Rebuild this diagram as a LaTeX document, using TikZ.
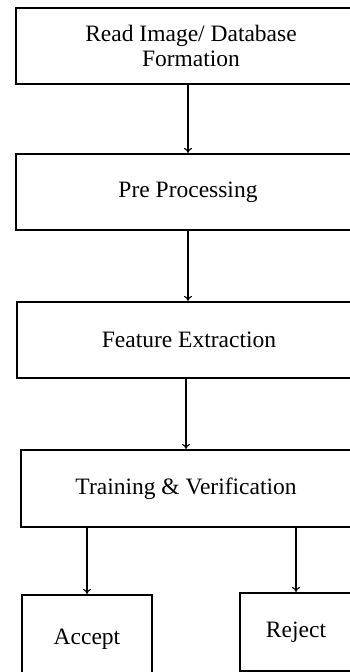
\documentclass[tikz,border=0pt]{standalone}
\usepackage{fontspec}
\setmainfont{Liberation Serif}
\usetikzlibrary{arrows.meta}

\begin{document}
\begin{tikzpicture}[x=1pt, y=-1pt,
  every node/.style={font=\fontsize{23.5}{25}\selectfont, align=center},
  stagebox/.style={draw, line width=2.2pt, inner sep=0pt},
  flow/.style={line width=1.1pt, -{To[length=5pt, width=8pt]}}]
\useasboundingbox (0,0) rectangle (350,672);
\clip (0,0) rectangle (350,672);
\node[stagebox, minimum width=350, minimum height=76] (read) at (191,46) {Read Image/ Database\\Formation};
\node[stagebox, minimum width=344, minimum height=76] (pre) at (188,192) {Pre Processing};
\node[stagebox, minimum width=344, minimum height=76] (feat) at (189,340) {Feature Extraction};
\node[stagebox, minimum width=330, minimum height=77] (train) at (186,488.5) {Training \& Verification};
\node[stagebox, minimum width=130, minimum height=88] (accept) at (87,639) {Accept};
\node[stagebox, minimum width=112, minimum height=78] (reject) at (296,632) {Reject};
\draw[flow] (read.south -| pre.north) -- (pre.north);
\draw[flow] (pre.south) -- (pre.south |- feat.north);
\draw[flow] (feat.south -| train.north) -- (train.north);
\draw[flow] (train.south -| accept.north) -- (accept.north);
\draw[flow] (train.south -| reject.north) -- (reject.north);
\end{tikzpicture}
\end{document}
